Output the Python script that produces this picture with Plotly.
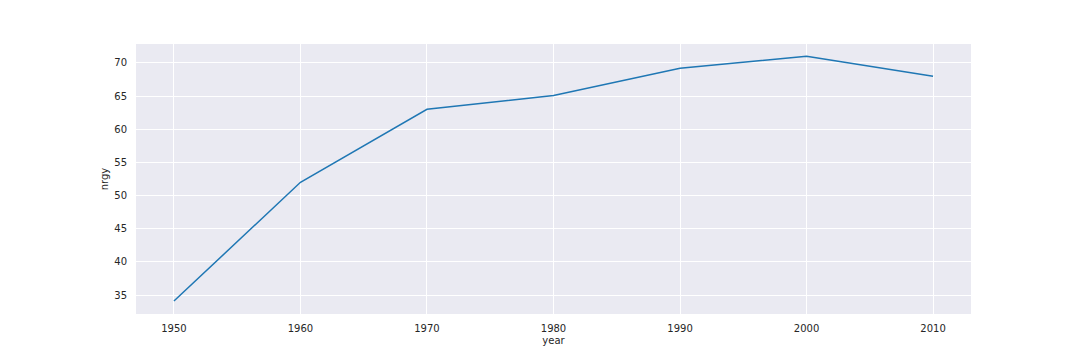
import plotly.graph_objects as go

years = [1950, 1960, 1970, 1980, 1990, 2000, 2010]
nrgy = [34.1, 52.0, 63.0, 65.1, 69.2, 71.0, 68.0]
x_ticks = [1950, 1960, 1970, 1980, 1990, 2000, 2010]
y_ticks = [35, 40, 45, 50, 55, 60, 65, 70]

fig = go.Figure()
fig.add_trace(go.Scatter(x=years, y=nrgy, mode="lines",
                         line=dict(color="#1f77b4", width=1.5),
                         showlegend=False))

font = dict(family="DejaVu Sans", size=10, color="#262626")
fig.update_layout(
    width=1072, height=352,
    margin=dict(l=128, r=109, t=36, b=46),
    paper_bgcolor="white",
    plot_bgcolor="#eaeaf2",
    font=font,
    xaxis=dict(range=[1947, 2013], tickvals=x_ticks, showgrid=True,
               gridcolor="white", gridwidth=1, zeroline=False, showline=False,
               ticks="", ticklabelstandoff=7,
               title=dict(text="year", font=font, standoff=3)),
    yaxis=dict(range=[32.15, 72.85], tickvals=y_ticks, showgrid=True,
               gridcolor="white", gridwidth=1, zeroline=False, showline=False,
               ticks="", ticklabelstandoff=8,
               title=dict(text="nrgy", font=font, standoff=3)),
)
fig.write_html("out.html")
